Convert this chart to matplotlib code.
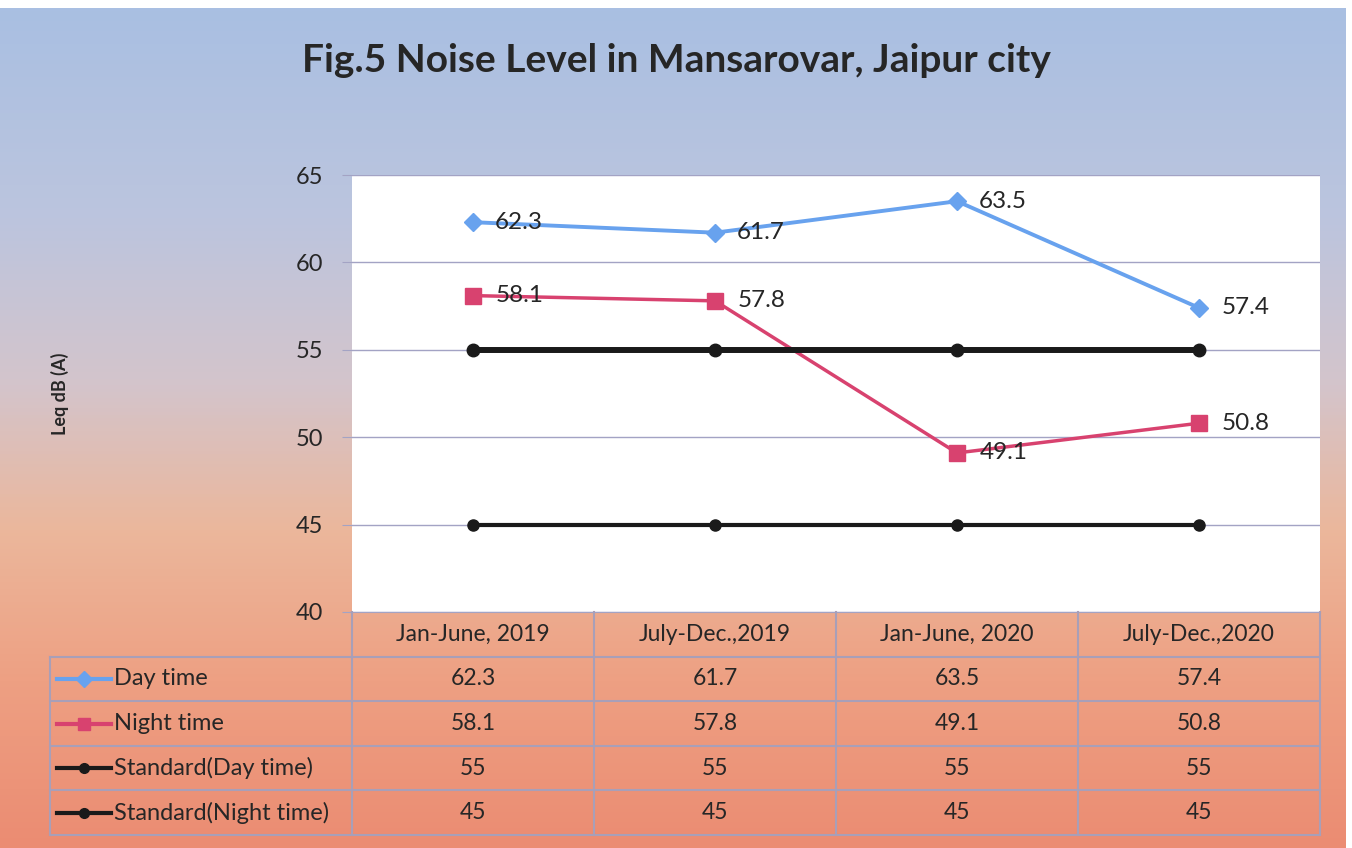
import numpy as np
import matplotlib.pyplot as plt
from matplotlib.colors import LinearSegmentedColormap

# data
periods = ['Jan-June, 2019', 'July-Dec.,2019', 'Jan-June, 2020', 'July-Dec.,2020']
day_time = [62.3, 61.7, 63.5, 57.4]
night_time = [58.1, 57.8, 49.1, 50.8]
std_day = [55, 55, 55, 55]
std_night = [45, 45, 45, 45]

names = ['Day time', 'Night time', 'Standard(Day time)', 'Standard(Night time)']
values = [day_time, night_time, std_day, std_night]

# styles
colors = ['#68A2EE', '#D8426F', '#1A1A1A', '#1A1A1A']
markers = ['D', 's', 'o', 'o']
msizes = [9, 12, 9, 8]
lwidths = [2.8, 2.5, 4.3, 3.0]
show_labels = [True, True, False, False]

FONT = 'Lato'
TXT = '#262626'

fig = plt.figure(figsize=(13.52, 8.48), dpi=100)
fig.patch.set_facecolor('white')

# gradient background (blue top -> salmon bottom)
bg = fig.add_axes([0, 0, 1346 / 1352, 1 - 8 / 848], zorder=-10)
cmap = LinearSegmentedColormap.from_list('bg', [
    (0.0, '#A9BFE2'), (0.25, '#BCC5DE'), (0.45, '#D4C4CB'),
    (0.62, '#EBB79C'), (0.8, '#EEA083'), (1.0, '#EB8C72')])
grad = np.linspace(0, 1, 256).reshape(-1, 1)
bg.imshow(grad, aspect='auto', cmap=cmap, extent=[0, 1, 0, 1])
bg.axis('off')

# main chart
ax = fig.add_axes([352 / 1352, (848 - 612) / 848, 968 / 1352, (612 - 175) / 848])
ax.set_facecolor('white')
x = np.arange(len(periods))
for vals, c, m, ms, lw, lab in zip(values, colors, markers, msizes, lwidths, show_labels):
    ax.plot(x, vals, color=c, marker=m, markersize=ms, linewidth=lw,
            markerfacecolor=c, markeredgecolor=c, zorder=3)
    if lab:
        for xi, v in zip(x, vals):
            ax.annotate(f'{v}', (xi, v), xytext=(16, 0), textcoords='offset points',
                        ha='left', va='center', fontsize=17.5, color=TXT, family=FONT, zorder=4)

ax.set_xlim(-0.5, len(periods) - 0.5)
ax.set_ylim(40, 65)
ax.set_yticks([40, 45, 50, 55, 60, 65])
ax.set_xticks([])
ax.grid(axis='y', color='#A3A3C4', linewidth=1.0)
ax.set_axisbelow(True)
for s in ['top', 'right', 'left']:
    ax.spines[s].set_visible(False)
ax.spines['bottom'].set_color('#A3A3C4')
ax.tick_params(axis='y', length=7, color='#A3A3C4', labelsize=17, labelcolor=TXT, pad=14)
for t in ax.get_yticklabels():
    t.set_family(FONT)
ax.set_ylabel('Leq dB (A)', fontsize=13, fontweight='bold', family=FONT, color=TXT, labelpad=163)

fig.text(0.5, 1 - 60 / 848, 'Fig.5 Noise Level in Mansarovar, Jaipur city', ha='center', va='center',
         fontsize=28, fontweight='bold', family=FONT, color='#262626')

# data table under the chart
tab = fig.add_axes([50 / 1352, (848 - 835) / 848, 1270 / 1352, (835 - 612) / 848])
left = -0.5 - 302 / 242
tab.set_xlim(left, len(periods) - 0.5)
tab.set_ylim(0, len(names) + 1)
tab.axis('off')
gc = '#A89FB8'
n = len(names)
for r in range(n + 1):
    tab.plot([left, len(periods) - 0.5], [r, r], color=gc, lw=1.5, clip_on=False)
tab.plot([left, left], [0, n], color=gc, lw=1.5, clip_on=False)
for c in range(len(periods) + 1):
    tab.plot([c - 0.5, c - 0.5], [0, n + 1], color=gc, lw=1.5, clip_on=False)
for i, p in enumerate(periods):
    tab.text(i, n + 0.5, p, ha='center', va='center', fontsize=16.5, family=FONT, color=TXT)
for r, (nm, vals, c, m) in enumerate(zip(names, values, colors, markers)):
    yy = n - r - 0.5
    tab.plot([left + 0.03, left + 0.25], [yy, yy], color=c, lw=3, clip_on=False)
    tab.plot([left + 0.14], [yy], color=c, marker=m, markersize=8 if m != 'o' else 7, clip_on=False)
    tab.text(left + 0.265, yy, nm, ha='left', va='center', fontsize=17, family=FONT, color=TXT)
    for i, v in enumerate(vals):
        tab.text(i, yy, f'{v}', ha='center', va='center', fontsize=16.5, family=FONT, color=TXT)

fig.savefig('out.png', dpi=100)
